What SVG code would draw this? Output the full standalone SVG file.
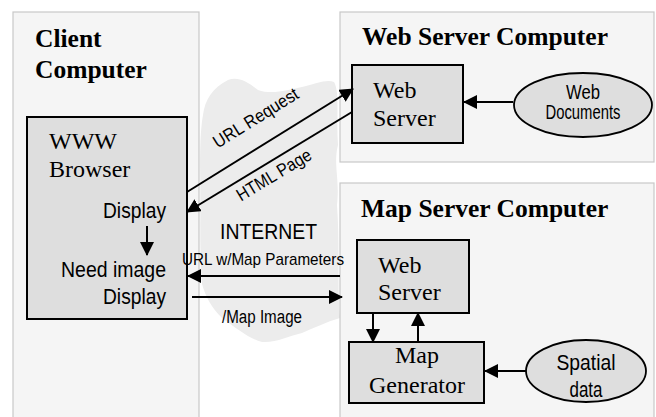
<svg xmlns="http://www.w3.org/2000/svg" width="656" height="417" viewBox="0 0 656 417">
<defs>
<marker id="ah" markerUnits="userSpaceOnUse" markerWidth="14" markerHeight="14" viewBox="0 0 14 14" refX="13" refY="7" orient="auto">
<path d="M0,0 L14,7 L0,14 Z" fill="#000"/>
</marker>
<style>
.panel{fill:#f5f5f5;stroke:#c8c8c8;stroke-width:1.2}
.box{fill:#dedede;stroke:#000;stroke-width:2}
.ell{fill:#dedede;stroke:#000;stroke-width:1.8}
.title{font-family:"Liberation Serif","Times New Roman",serif;font-weight:bold;font-size:25.5px;fill:#000}
.serif{font-family:"Liberation Serif","Times New Roman",serif;font-size:24px;fill:#000}
.sans{font-family:"Liberation Sans",Arial,sans-serif;fill:#000}
.con{stroke:#000;stroke-width:2;fill:none;marker-end:url(#ah)}
</style>
</defs>
<rect width="656" height="417" fill="#fff"/>
<path id="cloud" d="M203,115 C205,100 212,88 228,80 C238,76 248,82 258,90 C272,95 288,90 302,87 C316,84 326,79 334,82 C340,92 336,118 338,145 C333,165 340,178 337,205 C340,245 337,290 340,318 C326,322 314,328 302,333 C289,336 276,343 262,342 C248,338 236,328 222,318 C212,308 206,298 202,284 C199,250 201,205 200,165 C200,142 201,126 203,115 Z" fill="#ececec"/>
<g id="client">
<rect class="panel" x="13" y="12" width="186" height="410"/>
<text class="title" x="35" y="47">Client</text>
<text class="title" x="35" y="78">Computer</text>
</g>
<g id="browser">
<rect class="box" x="27" y="117" width="160" height="202"/>
<text class="serif" x="49" y="149">WWW</text>
<text class="serif" x="49" y="177">Browser</text>
<text class="sans" x="103" y="218" font-size="22" textLength="63" lengthAdjust="spacingAndGlyphs">Display</text>
<text class="sans" x="61" y="277" font-size="22" textLength="105" lengthAdjust="spacingAndGlyphs">Need image</text>
<text class="sans" x="103" y="304" font-size="22" textLength="63" lengthAdjust="spacingAndGlyphs">Display</text>
</g>
<g id="webServerComputer">
<rect class="panel" x="340" y="12" width="314" height="150"/>
<text class="title" x="362" y="45">Web Server Computer</text>
</g>
<g id="webServer">
<rect class="box" x="352" y="65" width="111" height="78"/>
<text class="serif" x="373" y="98">Web</text>
<text class="serif" x="373" y="126">Server</text>
</g>
<g id="webDocuments">
<ellipse class="ell" cx="583" cy="105" rx="69" ry="32"/>
<text class="sans" x="583" y="99" font-size="20" text-anchor="middle" textLength="34" lengthAdjust="spacingAndGlyphs">Web</text>
<text class="sans" x="583" y="119" font-size="20" text-anchor="middle" textLength="75" lengthAdjust="spacingAndGlyphs">Documents</text>
</g>
<g id="mapServerComputer">
<rect class="panel" x="340" y="183" width="314" height="240"/>
<text class="title" x="361" y="217">Map Server Computer</text>
</g>
<g id="mapWebServer">
<rect class="box" x="357" y="240" width="112" height="73"/>
<text class="serif" x="378" y="273">Web</text>
<text class="serif" x="378" y="300">Server</text>
</g>
<g id="mapGenerator">
<rect class="box" x="349" y="342" width="135" height="61"/>
<text class="serif" x="417" y="363" text-anchor="middle">Map</text>
<text class="serif" x="417" y="393" text-anchor="middle">Generator</text>
</g>
<g id="spatialData">
<ellipse class="ell" cx="586" cy="371" rx="60" ry="31"/>
<text class="sans" x="586" y="370" font-size="22" text-anchor="middle" textLength="59" lengthAdjust="spacingAndGlyphs">Spatial</text>
<text class="sans" x="586" y="397" font-size="22" text-anchor="middle" textLength="33" lengthAdjust="spacingAndGlyphs">data</text>
</g>
<g id="internet">
<text class="sans" x="220" y="239" font-size="22" textLength="97" lengthAdjust="spacingAndGlyphs">INTERNET</text>
</g>
<g id="connectors">
<line class="con" x1="147" y1="226" x2="147" y2="255"/>
<line class="con" x1="187" y1="192" x2="353" y2="89"/>
<line class="con" x1="352" y1="112" x2="187" y2="212"/>
<line class="con" x1="513" y1="102" x2="464" y2="102"/>
<line class="con" x1="340" y1="276" x2="188" y2="276"/>
<line class="con" x1="192" y1="297" x2="342" y2="297"/>
<line class="con" x1="373" y1="314" x2="373" y2="342"/>
<line class="con" x1="418" y1="342" x2="418" y2="313"/>
<line class="con" x1="526" y1="371" x2="485" y2="371"/>
<text class="sans" font-size="18" text-anchor="middle" textLength="97" lengthAdjust="spacingAndGlyphs" transform="translate(259,123) rotate(-32)">URL Request</text>
<text class="sans" font-size="18" text-anchor="middle" textLength="84" lengthAdjust="spacingAndGlyphs" transform="translate(277,180) rotate(-31)">HTML Page</text>
<text class="sans" x="182" y="265" font-size="17" textLength="162" lengthAdjust="spacingAndGlyphs">URL w/Map Parameters</text>
<text class="sans" x="222" y="323" font-size="18" textLength="80" lengthAdjust="spacingAndGlyphs">/Map Image</text>
</g>
</svg>
